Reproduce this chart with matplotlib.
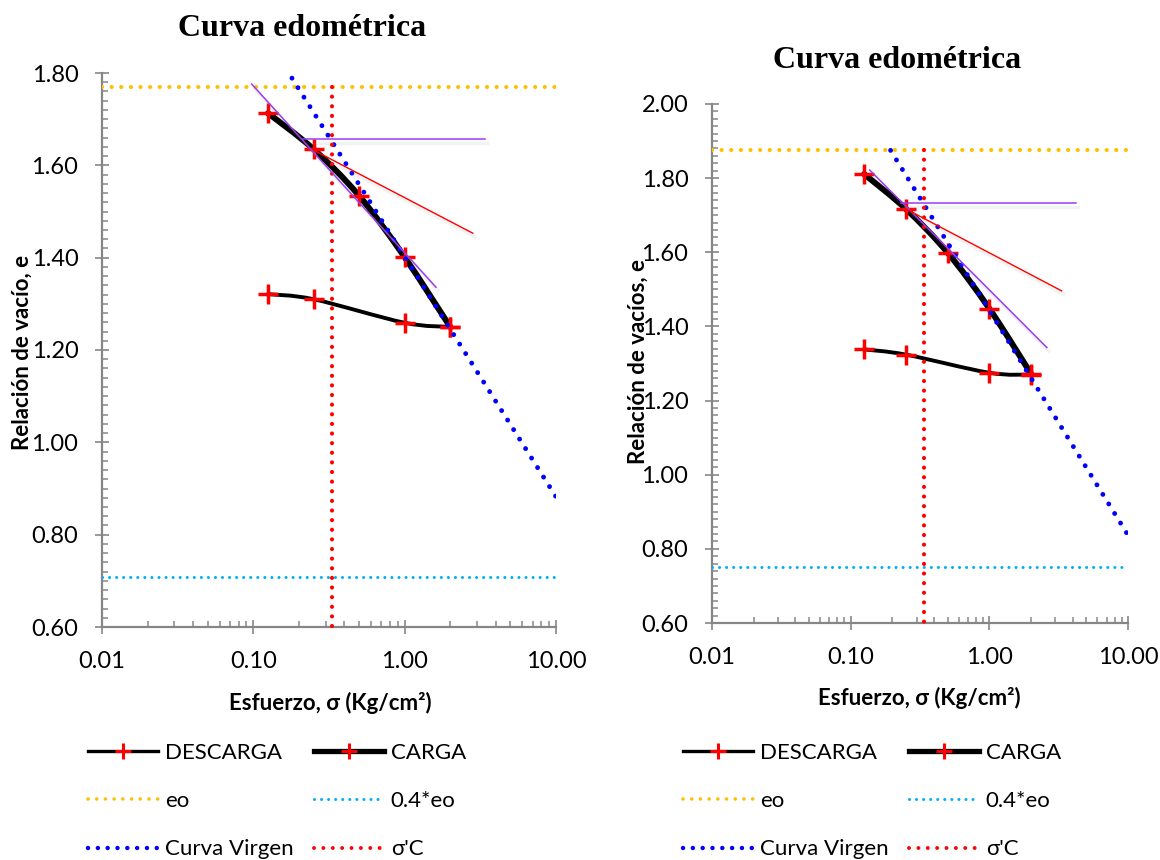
import numpy as np
import matplotlib.pyplot as plt
import matplotlib.patheffects as pe
from matplotlib.path import Path
from matplotlib.patches import PathPatch
from matplotlib.lines import Line2D
from matplotlib.ticker import LogLocator, MultipleLocator, FuncFormatter, NullFormatter

plt.rcParams['font.family'] = ['Lato', 'DejaVu Sans']

# ---- left chart
L_carga_s = [0.125, 0.25, 0.5, 1.0, 2.0]
L_carga_e = [1.713, 1.635, 1.534, 1.401, 1.250]
L_desc_s = [2.0, 1.0, 0.25, 0.125]
L_desc_e = [1.250, 1.259, 1.310, 1.321]
L_eo = 1.77
L_eo04 = 0.708
L_sigc = 0.33
L_virgen_s = [0.15, 10.0]
L_virgen_e = [1.83, 0.882]
L_tang_s = [0.0975, 1.61]
L_tang_e = [1.776, 1.336]
L_horiz_s = [0.214, 3.37]
L_horiz_e = [1.656, 1.656]
L_bisec_s = [0.25, 2.82]
L_bisec_e = [1.633, 1.453]

# ---- right chart
R_carga_s = [0.125, 0.25, 0.5, 1.0, 2.0]
R_carga_e = [1.811, 1.717, 1.599, 1.448, 1.272]
R_desc_s = [2.0, 1.0, 0.25, 0.125]
R_desc_e = [1.270, 1.275, 1.324, 1.338]
R_eo = 1.875
R_eo04 = 0.75
R_sigc = 0.34
R_virgen_s = [0.194, 10.0]
R_virgen_e = [1.875, 0.837]
R_tang_s = [0.137, 2.60]
R_tang_e = [1.822, 1.343]
R_horiz_s = [0.231, 4.19]
R_horiz_e = [1.732, 1.732]
R_bisec_s = [0.25, 3.32]
R_bisec_e = [1.717, 1.496]

legend_labels = ['DESCARGA', 'eo', 'Curva Virgen', 'CARGA', '0.4*eo', "σ'C"]

AXIS_GRAY = '#868686'
PURPLE = '#9B3CF0'
shadow = [pe.SimpleLineShadow(offset=(1.5, -2.5), shadow_color='gray', alpha=0.1, linewidth=2.5), pe.Normal()]


def smooth_path(s, e):
    # excel-like smoothed line: bezier segments built in log(x) space
    x = np.log10(s)
    y = np.asarray(e, dtype=float)
    n = len(x)
    verts = [(x[0], y[0])]
    codes = [Path.MOVETO]
    for i in range(n - 1):
        p0 = i - 1 if i > 0 else i
        p3 = i + 2 if i + 2 < n else i + 1
        c1 = (x[i] + (x[i + 1] - x[p0]) / 6, y[i] + (y[i + 1] - y[p0]) / 6)
        c2 = (x[i + 1] - (x[p3] - x[i]) / 6, y[i + 1] - (y[p3] - y[i]) / 6)
        verts += [c1, c2, (x[i + 1], y[i + 1])]
        codes += [Path.CURVE4] * 3
    verts = np.array(verts)
    verts[:, 0] = 10 ** verts[:, 0]
    return Path(verts, codes)


def draw_panel(ax, carga_s, carga_e, desc_s, desc_e, eo, eo04, sigc,
               virg_s, virg_e, tang_s, tang_e, hor_s, hor_e, bis_s, bis_e, ymax):
    ax.set_xscale('log')
    ax.set_xlim(0.01, 10)
    ax.set_ylim(0.6, ymax)

    # loading / unloading curves (smoothed) with + markers
    ax.add_patch(PathPatch(smooth_path(desc_s, desc_e), fill=False, edgecolor='black',
                           lw=2.8, capstyle='round', joinstyle='round', zorder=2))
    ax.add_patch(PathPatch(smooth_path(carga_s, carga_e), fill=False, edgecolor='black',
                           lw=4.3, capstyle='round', joinstyle='round', zorder=2))
    ax.plot(desc_s, desc_e, ls='none', marker='+', ms=15, mew=2.5, color='red', zorder=3)
    ax.plot(carga_s, carga_e, ls='none', marker='+', ms=15, mew=2.5, color='red', zorder=3)

    # reference lines
    ax.axhline(eo, color='#FFC000', lw=3.0, ls=(0, (0.01, 2.3)), dash_capstyle='round', zorder=4)
    ax.axhline(eo04, color='#00B0F0', lw=2.2, ls=(0, (0.01, 2.3)), dash_capstyle='round', zorder=4)
    ax.plot(virg_s, virg_e, color='#0000FF', lw=3.5, ls=(0, (0.01, 2.3)),
            dash_capstyle='round', zorder=5)
    ax.plot([sigc, sigc], [eo, 0.6], color='#FF0000', lw=3.0, ls=(0, (0.01, 2.3)),
            dash_capstyle='round', zorder=5, clip_on=False)

    # casagrande construction lines
    ax.plot(tang_s, tang_e, color=PURPLE, lw=1.1, zorder=6, path_effects=shadow)
    ax.plot(hor_s, hor_e, color=PURPLE, lw=1.1, zorder=6, path_effects=shadow)
    ax.plot(bis_s, bis_e, color='#FF0000', lw=1.0, zorder=6, path_effects=shadow)

    for side in ['top', 'right']:
        ax.spines[side].set_visible(False)
    for side in ['left', 'bottom']:
        ax.spines[side].set_color(AXIS_GRAY)
        ax.spines[side].set_linewidth(1.6)

    ax.xaxis.set_major_locator(LogLocator(base=10))
    ax.xaxis.set_minor_locator(LogLocator(base=10, subs=np.arange(2, 10)))
    ax.xaxis.set_major_formatter(FuncFormatter(lambda v, p: f'{v:.2f}'))
    ax.xaxis.set_minor_formatter(NullFormatter())
    ax.yaxis.set_major_locator(MultipleLocator(0.2))
    ax.yaxis.set_minor_locator(MultipleLocator(0.02))
    ax.yaxis.set_major_formatter(FuncFormatter(lambda v, p: f'{v:.2f}'))

    ax.tick_params(which='major', direction='inout', length=10, width=1.2,
                   color=AXIS_GRAY, labelsize=17, pad=12)
    ax.tick_params(which='minor', direction='in', length=4.5, width=1.1, color=AXIS_GRAY)


fig = plt.figure(figsize=(11.6, 8.6), dpi=100)
W, H = 1160, 860

axL = fig.add_axes([102 / W, 1 - 627 / H, 454 / W, 554 / H])
axR = fig.add_axes([712 / W, 1 - 623 / H, 416 / W, 519 / H])

draw_panel(axL, L_carga_s, L_carga_e, L_desc_s, L_desc_e, L_eo, L_eo04, L_sigc,
           L_virgen_s, L_virgen_e, L_tang_s, L_tang_e, L_horiz_s, L_horiz_e,
           L_bisec_s, L_bisec_e, 1.8)
draw_panel(axR, R_carga_s, R_carga_e, R_desc_s, R_desc_e, R_eo, R_eo04, R_sigc,
           R_virgen_s, R_virgen_e, R_tang_s, R_tang_e, R_horiz_s, R_horiz_e,
           R_bisec_s, R_bisec_e, 2.0)

# titles and axis labels
title_font = dict(family='Liberation Serif', weight='bold', size=23)
fig.text(302 / W, 1 - 28 / H, 'Curva edométrica', ha='center', va='center', **title_font)
fig.text(897 / W, 1 - 61 / H, 'Curva edométrica', ha='center', va='center', **title_font)

fig.text(330 / W, 1 - 703 / H, 'Esfuerzo, σ (Kg/cm²)', ha='center', va='center',
         weight='bold', size=16)
fig.text(919 / W, 1 - 698 / H, 'Esfuerzo, σ (Kg/cm²)', ha='center', va='center',
         weight='bold', size=16)
fig.text(22 / W, 1 - 352 / H, 'Relación de vacío, e', ha='center', va='center',
         rotation=90, weight='bold', size=16)
fig.text(638 / W, 1 - 361 / H, 'Relación de vacíos, e', ha='center', va='center',
         rotation=90, weight='bold', size=16)

# legends
dot = dict(dash_capstyle='round')
handles = [
    Line2D([], [], color='black', lw=2.4, marker='+', ms=12, mew=2.2, mec='red'),
    Line2D([], [], color='#FFC000', lw=2.6, ls=(0, (0.01, 2.4)), **dot),
    Line2D([], [], color='#0000FF', lw=3.2, ls=(0, (0.01, 2.2)), **dot),
    Line2D([], [], color='black', lw=3.8, marker='+', ms=12, mew=2.2, mec='red'),
    Line2D([], [], color='#00B0F0', lw=2.2, ls=(0, (0.01, 2.3)), **dot),
    Line2D([], [], color='#FF0000', lw=2.8, ls=(0, (0.01, 2.4)), **dot),
]
for x0 in (88, 683):
    fig.legend(handles, legend_labels, ncol=2, loc='upper left',
               bbox_to_anchor=(x0 / W, 1 - 743 / H), frameon=False, fontsize=16,
               handlelength=3.15, handletextpad=0.32, columnspacing=0.9,
               labelspacing=1.27, borderpad=0, borderaxespad=0, numpoints=1)

fig.savefig('out.png', dpi=100, facecolor='white')
